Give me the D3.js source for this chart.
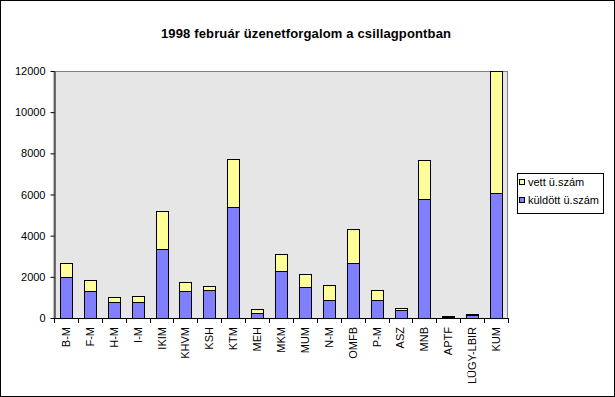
<!DOCTYPE html>
<html lang="hu">
<head>
<meta charset="UTF-8">
<script src="https://cdn.jsdelivr.net/npm/d3@7"></script>
<style>
    body { margin: 0; background: white; }
    svg { display: block; font-family: "Liberation Sans", Arial, sans-serif; }
</style>
</head>
<body>
<div id="container"></div>
<script>
    // categories and series
    const categories = ["B-M", "F-M", "H-M", "I-M", "IKIM", "KHVM", "KSH", "KTM", "MEH", "MKM",
        "MUM", "N-M", "OMFB", "P-M", "ASZ", "MNB", "APTF", "LÜGY-LBIR", "KUM"]
    const kuldott = [1980, 1310, 780, 780, 3350, 1310, 1360, 5390, 240, 2280,
        1500, 870, 2670, 870, 390, 5800, 60, 130, 6060]
    const vett = [680, 540, 240, 290, 1850, 440, 200, 2340, 200, 830,
        640, 750, 1660, 490, 100, 1880, 60, 60, 5940]
    const yTicks = [0, 2000, 4000, 6000, 8000, 10000, 12000]
    const seriesNames = ["küldött ü.szám", "vett ü.szám"]
    const colors = ["#8080ff", "#ffff99"]

    const W = 615, H = 397
    const plot = { left: 54, top: 71, right: 508, bottom: 318 }

    const svg = d3.select("#container").append("svg")
        .attr("width", W).attr("height", H)

    // outer frame
    svg.append("rect")
        .attr("x", 0.5).attr("y", 0.5)
        .attr("width", W - 1).attr("height", H - 1)
        .attr("fill", "white").attr("stroke", "black")

    svg.append("text")
        .attr("x", 306).attr("y", 38)
        .attr("text-anchor", "middle")
        .attr("font-size", 13).attr("font-weight", "bold")
        .attr("textLength", 290)
        .text("1998 február üzenetforgalom a csillagpontban")

    const x = d3.scaleBand()
        .domain(categories)
        .range([plot.left, plot.right])
        .paddingInner(0.5).paddingOuter(0.25)

    // band without padding, for ticks
    const xb = d3.scaleBand().domain(categories).range([plot.left, plot.right])

    const y = d3.scaleLinear().domain([0, 12000]).range([plot.bottom, plot.top])

    // plot area
    svg.append("rect")
        .attr("x", plot.left).attr("y", plot.top + 0.5)
        .attr("width", plot.right - plot.left - 0.5).attr("height", plot.bottom - plot.top)
        .attr("fill", "#e6e6e6").attr("stroke", "#808080")

    const rows = categories.map((c, i) => ({ cat: c, k: kuldott[i], v: vett[i] }))
    const stacked = d3.stack().keys(["k", "v"])(rows)

    svg.append("g").selectAll("g")
        .data(stacked)
        .join("g")
        .attr("fill", (d, i) => colors[i])
        .selectAll("rect")
        .data(d => d)
        .join("rect")
        .attr("x", d => Math.round(x(d.data.cat)) + 0.5)
        .attr("y", d => Math.round(y(d[1])) + 0.5)
        .attr("width", Math.round(x.bandwidth()))
        .attr("height", d => Math.max(0, Math.round(y(d[0])) - Math.round(y(d[1]))))
        .attr("stroke", "black").attr("stroke-width", 1)

    // y axis
    const yAxis = svg.append("g")
        .attr("transform", `translate(${plot.left + 0.5},0)`)
        .call(d3.axisLeft(y).tickValues(yTicks).tickFormat(d3.format("d"))
            .tickSize(4).tickSizeOuter(0).tickPadding(5))
    yAxis.selectAll("text").attr("font-size", 11).attr("font-family", "Liberation Sans, Arial, sans-serif").attr("fill", "black")
    yAxis.select(".domain").attr("stroke", "black")

    // x axis with ticks on band boundaries
    const xg = svg.append("g")
    xg.append("line")
        .attr("x1", plot.left).attr("x2", plot.right)
        .attr("y1", plot.bottom + 0.5).attr("y2", plot.bottom + 0.5)
        .attr("stroke", "black")
    const bounds = categories.map(c => xb(c)).concat([plot.right])
    xg.selectAll("line.tick")
        .data(bounds)
        .join("line")
        .attr("class", "tick")
        .attr("x1", d => Math.round(d) + 0.5).attr("x2", d => Math.round(d) + 0.5)
        .attr("y1", plot.bottom).attr("y2", plot.bottom + 5)
        .attr("stroke", "black")
    xg.selectAll("text")
        .data(categories)
        .join("text")
        .attr("transform", d => `translate(${xb(d) + xb.bandwidth() / 2 + 4},${plot.bottom + 9}) rotate(-90)`)
        .attr("text-anchor", "end")
        .attr("font-size", 11)
        .text(d => d)

    // legend
    const lg = svg.append("g").attr("transform", "translate(517,173)")
    lg.append("rect")
        .attr("x", 0.5).attr("y", 0.5).attr("width", 86).attr("height", 40)
        .attr("fill", "white").attr("stroke", "black")
    const legendItems = [1, 0]
    legendItems.forEach((s, i) => {
        lg.append("rect")
            .attr("x", 2.5).attr("y", 6.5 + i * 18)
            .attr("width", 5).attr("height", 5)
            .attr("fill", colors[s]).attr("stroke", "black")
        lg.append("text")
            .attr("x", 11).attr("y", 13 + i * 18)
            .attr("font-size", 11)
            .text(seriesNames[s])
    })
</script>
</body>
</html>
